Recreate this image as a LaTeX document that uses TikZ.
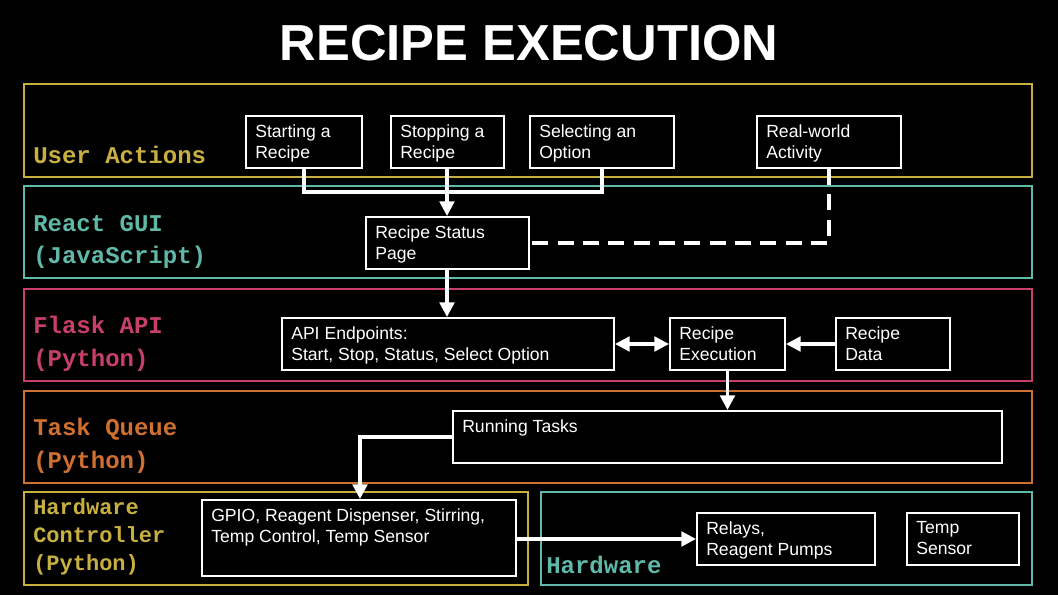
\documentclass[tikz,border=0pt]{standalone}
\usepackage{fontspec}
\setmainfont{Liberation Sans}
\newfontfamily\lanefont{Liberation Mono}
\usetikzlibrary{arrows.meta,fit}
\definecolor{cyel}{HTML}{C8B040}
\definecolor{cteal}{HTML}{5FB8A8}
\definecolor{cpink}{HTML}{C8406A}
\definecolor{corange}{HTML}{D07030}
\begin{document}
\begin{tikzpicture}[x=0.75pt,y=-0.75pt,
  lane/.style={draw=#1, line width=1.5pt, inner sep=0},
  lanelbl/.style={text=#1, font=\lanefont\bfseries\fontsize{18}{24.5}\selectfont, anchor=west, align=left, inner sep=0},
  box/.style={draw=white, line width=1.5pt, inner sep=0},
  txt/.style={text=white, font=\fontsize{13.2}{15.8}\selectfont, anchor=north west, align=left, inner xsep=7.5pt, inner ysep=7pt},
  conn/.style={draw=white, line width=2.4pt},
  arr/.style={conn, -{Triangle[length=11pt,width=11pt]}},
  darr/.style={conn, {Triangle[length=11pt,width=11pt]}-{Triangle[length=11pt,width=11pt]}}]
\fill[black] (0,0) rectangle (1058,595);
\useasboundingbox (0,0) rectangle (1058,595);
\node[text=white, font=\bfseries\fontsize{38}{42}\selectfont] (title) at (529,43) {RECIPE EXECUTION};
% lanes
\node[lane=cyel, fit={(24,84)(1032,177)}] (l1) {};
\node[lane=cteal, fit={(24,186)(1032,278)}] (l2) {};
\node[lane=cpink, fit={(24,289)(1032,381)}] (l3) {};
\node[lane=corange, fit={(24,391)(1032,483)}] (l4) {};
\node[lane=cyel, fit={(24,492)(528,585)}] (l5) {};
\node[lane=cteal, fit={(541,492)(1032,585)}] (l6) {};
\node[lanelbl=cyel] (t1) at (33,155) {User Actions};
\node[lanelbl=cteal] (t2) at (33,242) {React GUI\\(JavaScript)};
\node[lanelbl=cpink] (t3) at (33,344) {Flask API\\(Python)};
\node[lanelbl=corange] (t4) at (33,446) {Task Queue\\(Python)};
\node[lanelbl=cyel, font=\lanefont\bfseries\fontsize{16.5}{21}\selectfont] (t5) at (33,537) {Hardware\\Controller\\(Python)};
\node[lanelbl=cteal, font=\lanefont\bfseries\fontsize{18}{23}\selectfont] (t6) at (546,565) {Hardware};
% boxes
\node[box, fit={(246,116)(362,168)}, label={[txt]north west:Starting a\\Recipe}] (start) {};
\node[box, fit={(391,116)(504,168)}, label={[txt]north west:Stopping a\\Recipe}] (stop) {};
\node[box, fit={(530,116)(674,168)}, label={[txt]north west:Selecting an\\Option}] (sel) {};
\node[box, fit={(757,116)(901,168)}, label={[txt]north west:Real-world\\Activity}] (real) {};
\node[box, fit={(366,217)(529,269)}, label={[txt]north west:Recipe Status\\Page}] (status) {};
\node[box, fit={(282,318)(614,370)}, label={[txt]north west:API Endpoints:\\Start, Stop, Status, Select Option}] (api) {};
\node[box, fit={(670,318)(785,370)}, label={[txt]north west:Recipe\\Execution}] (exec) {};
\node[box, fit={(836,318)(950,370)}, label={[txt]north west:Recipe\\Data}] (data) {};
\node[box, fit={(453,411)(1002,463)}, label={[txt, inner ysep=7pt]north west:Running Tasks}] (run) {};
\node[box, fit={(202,500)(516,576)}, label={[txt]north west:GPIO, Reagent Dispenser, Stirring,\\Temp Control, Temp Sensor}] (gpio) {};
\node[box, fit={(697,513)(875,565)}, label={[txt]north west:Relays,\\Reagent Pumps}] (relay) {};
\node[box, fit={(907,513)(1019,565)}, label={[txt]north west:Temp\\Sensor}] (temp) {};
% connectors
\coordinate (j) at (447,192);
\draw[conn] (start.south -| 304,0) |- (j) -| (sel.south -| 602,0);
\draw[arr] (stop.south -| 447,0) -- (status.north -| 447,0);
\draw[conn, dash pattern=on 12pt off 7pt] (real.south -| 829,0) |- (status.east);
\draw[arr] (status.south -| 447,0) -- (api.north -| 447,0);
\draw[darr] (api.east) -- (exec.west);
\draw[arr] (data.west) -- (exec.east);
\draw[arr] (exec.south) -- (run.north -| exec.south);
\draw[arr] (run.west |- 0,437) -| (gpio.north -| 360,0);
\draw[arr] (gpio.east |- 0,539) -- (relay.west |- 0,539);
\end{tikzpicture}
\end{document}
